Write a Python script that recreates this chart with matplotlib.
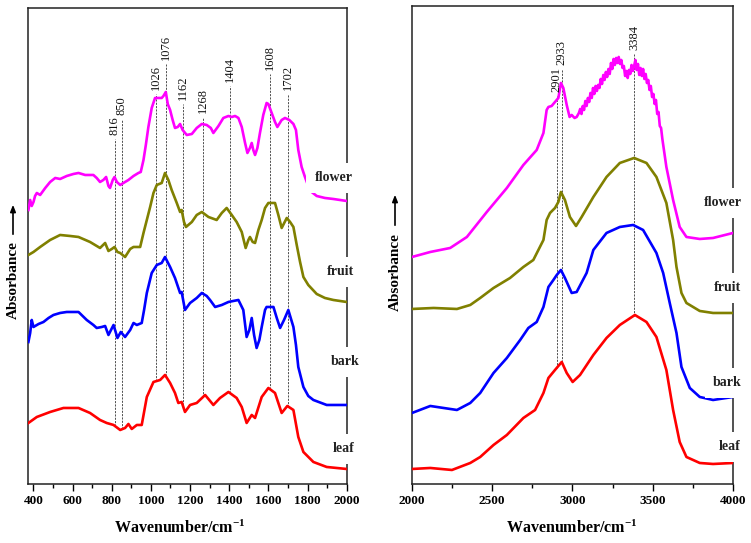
import numpy as np
import matplotlib
matplotlib.use("Agg")
import matplotlib.pyplot as plt
from matplotlib.ticker import MultipleLocator

plt.rcParams['font.family'] = ['Liberation Serif', 'DejaVu Serif']
plt.rcParams['mathtext.fontset'] = 'custom'
plt.rcParams['mathtext.rm'] = 'Liberation Serif:bold'
plt.rcParams['mathtext.default'] = 'rm'

# ---- low wavenumber region (400-2000 cm-1), offset absorbance (a.u.) ----
flower_lo_wn = [374, 383, 391, 400, 408, 417, 434, 460, 485, 511, 536, 570, 604, 630, 664, 706, 723, 740, 757, 771,
                783, 791, 805, 814, 826, 843, 868, 885, 911, 936, 948, 962, 974, 987, 1004, 1021, 1038, 1055, 1064, 1076,
                1086, 1098, 1111, 1123, 1137, 1149, 1162, 1183, 1209, 1234, 1260, 1285, 1306, 1319, 1345, 1370, 1396, 1413, 1430, 1447,
                1464, 1481, 1493, 1506, 1515, 1523, 1532, 1544, 1557, 1574, 1591, 1600, 1617, 1634, 1646, 1668, 1685, 1707, 1728, 1741,
                1753, 1770, 1787, 1804, 1821, 1847, 1889, 1932, 2000]
flower_lo = [274, 284, 278, 282, 288, 291, 289, 296, 302, 306, 305, 308, 310, 311, 309, 309, 306, 302, 304, 307,
             298, 296, 304, 307, 302, 299, 302, 304, 308, 311, 312, 324, 339, 357, 376, 386, 386, 386, 388, 392,
             380, 374, 364, 356, 357, 360, 354, 349, 350, 356, 360, 359, 356, 351, 358, 366, 368, 367, 368, 366,
             357, 341, 331, 336, 341, 334, 329, 336, 351, 369, 381, 380, 371, 362, 357, 364, 366, 364, 360, 354,
             334, 317, 307, 298, 292, 288, 286, 285, 283]

fruit_lo_wn = [374, 400, 434, 485, 536, 587, 630, 689, 740, 766, 783, 800, 814, 829, 843, 868, 894, 911, 945, 962,
               979, 996, 1013, 1030, 1055, 1072, 1089, 1106, 1132, 1149, 1157, 1169, 1179, 1209, 1234, 1260, 1294, 1336, 1362, 1387,
               1413, 1438, 1464, 1484, 1498, 1506, 1520, 1532, 1549, 1566, 1583, 1600, 1634, 1651, 1668, 1694, 1711, 1728, 1745, 1762,
               1779, 1804, 1847, 1889, 1932, 2000]
fruit_lo = [229, 232, 237, 244, 249, 248, 247, 242, 236, 241, 233, 235, 237, 232, 231, 227, 235, 237, 237, 251,
            264, 277, 291, 299, 301, 311, 304, 294, 281, 272, 274, 262, 257, 262, 269, 272, 267, 264, 271, 276,
            269, 262, 252, 236, 244, 247, 242, 241, 254, 264, 276, 281, 281, 269, 256, 266, 262, 257, 239, 222,
            207, 199, 190, 186, 184, 182]

bark_lo_wn = [374, 383, 391, 400, 426, 451, 477, 502, 536, 570, 630, 672, 706, 723, 749, 766, 783, 809, 829, 846,
              868, 894, 911, 928, 953, 965, 979, 1004, 1030, 1055, 1072, 1098, 1123, 1149, 1157, 1174, 1200, 1234, 1260, 1285,
              1302, 1328, 1362, 1396, 1421, 1447, 1472, 1489, 1503, 1515, 1527, 1540, 1554, 1566, 1583, 1591, 1626, 1643, 1660, 1680,
              1702, 1728, 1741, 1753, 1779, 1804, 1830, 1898, 2000]
bark_lo = [142, 151, 164, 157, 160, 162, 166, 169, 171, 172, 172, 164, 159, 156, 157, 158, 149, 159, 146, 152,
           147, 154, 161, 159, 161, 174, 191, 211, 219, 221, 227, 217, 206, 191, 192, 174, 181, 186, 191, 188,
           184, 177, 179, 182, 183, 184, 174, 147, 154, 166, 149, 136, 144, 157, 174, 177, 177, 166, 156, 164,
           174, 157, 139, 117, 97, 88, 84, 79, 79]

leaf_lo_wn = [374, 417, 485, 553, 630, 689, 740, 774, 809, 843, 868, 885, 902, 928, 953, 979, 1013, 1047, 1072, 1098,
              1123, 1140, 1157, 1174, 1200, 1234, 1277, 1319, 1353, 1396, 1438, 1464, 1489, 1515, 1532, 1566, 1600, 1634, 1668, 1697,
              1728, 1753, 1779, 1830, 1898, 2000]
leaf_lo = [61, 67, 72, 76, 76, 71, 64, 61, 59, 54, 56, 60, 55, 59, 59, 87, 102, 104, 109, 101,
           91, 81, 82, 72, 79, 81, 89, 79, 86, 92, 86, 77, 61, 69, 66, 87, 96, 91, 71, 78,
           74, 47, 32, 22, 17, 15]

# ---- high wavenumber region (2000-4000 cm-1) ----
flower_hi_wn = [2000, 2114, 2238, 2342, 2466, 2591, 2694, 2777, 2819, 2839, 2850, 2870, 2891, 2912, 2928, 2943, 2964, 2982, 2995, 3013,
                3026, 3040, 3048, 3056, 3064, 3072, 3080, 3088, 3096, 3104, 3112, 3120, 3128, 3136, 3144, 3152, 3160, 3168, 3176, 3184,
                3192, 3200, 3208, 3216, 3224, 3232, 3240, 3248, 3256, 3264, 3272, 3280, 3288, 3296, 3304, 3312, 3320, 3328, 3336, 3344,
                3352, 3360, 3368, 3376, 3384, 3392, 3400, 3408, 3416, 3424, 3432, 3440, 3448, 3456, 3464, 3472, 3480, 3488, 3496, 3504,
                3512, 3520, 3528, 3536, 3544, 3552, 3560, 3585, 3627, 3668, 3710, 3793, 3876, 4000]
flower_hi = [227, 232, 236, 247, 272, 296, 319, 334, 351, 374, 377, 378, 382, 386, 401, 396, 379, 367, 369, 366,
             367, 371, 375, 370, 378, 374, 383, 378, 386, 382, 391, 386, 396, 390, 398, 393, 399, 396, 405, 400,
             409, 404, 412, 407, 415, 410, 421, 415, 425, 419, 426, 421, 427, 420, 424, 416, 418, 408, 413, 406,
             414, 410, 419, 413, 418, 424, 414, 420, 409, 416, 408, 415, 405, 410, 401, 404, 394, 398, 387, 390,
             380, 384, 370, 372, 358, 356, 345, 317, 284, 257, 247, 245, 246, 251]

fruit_hi_wn = [2000, 2135, 2280, 2363, 2425, 2508, 2611, 2694, 2756, 2819, 2839, 2860, 2891, 2912, 2928, 2953, 2984, 3022, 3057, 3130,
               3212, 3295, 3384, 3461, 3523, 3585, 3627, 3648, 3679, 3710, 3793, 3876, 4000]
fruit_hi = [175, 176, 175, 179, 186, 196, 206, 217, 224, 244, 264, 271, 276, 282, 292, 284, 267, 258, 267, 287,
            307, 321, 326, 321, 307, 281, 244, 217, 191, 181, 173, 171, 171]

bark_hi_wn = [2000, 2114, 2280, 2363, 2425, 2508, 2591, 2674, 2725, 2777, 2819, 2850, 2881, 2902, 2928, 2953, 2995, 3026, 3088, 3130,
              3212, 3295, 3378, 3440, 3523, 3565, 3606, 3648, 3679, 3731, 3793, 3876, 4000]
bark_hi = [71, 78, 74, 81, 91, 111, 126, 144, 156, 162, 177, 197, 204, 209, 214, 206, 191, 192, 211, 234,
           251, 257, 259, 254, 231, 211, 181, 151, 117, 96, 87, 84, 87]

leaf_hi_wn = [2000, 2114, 2249, 2363, 2425, 2508, 2591, 2694, 2767, 2819, 2850, 2891, 2933, 2964, 3001, 3047, 3130, 3212, 3295, 3389,
              3461, 3523, 3585, 3627, 3668, 3710, 3793, 3876, 4000]
leaf_hi = [15, 16, 14, 21, 27, 39, 49, 66, 74, 91, 106, 114, 122, 111, 102, 109, 129, 146, 159, 169,
           162, 147, 114, 74, 42, 27, 21, 20, 21]

# peak markers: wavenumber and height of label bottom
peaks_lo = [816, 850, 1026, 1076, 1162, 1268, 1404, 1608, 1702]
peaks_lo_top = [349, 369, 394, 424, 384, 371, 402, 414, 394]
peaks_hi = [2901, 2933, 3384]
peaks_hi_top = [392, 419, 434]

names = ['flower', 'fruit', 'bark', 'leaf']
colors = ['#ff00ff', '#808000', '#0000ff', '#ff0000']
name_pos_lo = [(1934, 306), (1969, 212), (1990, 122), (1985, 35)]
name_pos_hi = [(3937, 281), (3965, 196), (3965, 101), (3977, 37)]

fig = plt.figure(figsize=(7.51, 5.43), dpi=100)
ax1 = fig.add_axes([0.0373, 0.1087, 0.4248, 0.8766])
ax2 = fig.add_axes([0.5486, 0.1087, 0.4274, 0.8803])

series_lo = [(flower_lo_wn, flower_lo), (fruit_lo_wn, fruit_lo), (bark_lo_wn, bark_lo), (leaf_lo_wn, leaf_lo)]
series_hi = [(flower_hi_wn, flower_hi), (fruit_hi_wn, fruit_hi), (bark_hi_wn, bark_hi), (leaf_hi_wn, leaf_hi)]

for ax, series, peaks, tops, pos in [(ax1, series_lo, peaks_lo, peaks_lo_top, name_pos_lo),
                                     (ax2, series_hi, peaks_hi, peaks_hi_top, name_pos_hi)]:
    for (wn, a), c in zip(series, colors):
        ax.plot(wn, a, color=c, lw=1.9, solid_joinstyle='round', zorder=3)
    leaf_wn, leaf_a = series[-1]
    for p, t in zip(peaks, tops):
        bottom = np.interp(p, leaf_wn, leaf_a)
        ax.plot([p, p], [bottom, t - 4], ls=(0, (2.5, 1.5)), color='#333333', lw=0.6, zorder=2)
        ax.text(p, t, str(p), rotation=90, ha='center', va='bottom', fontsize=9, color='#111111')
    for (x, y), n in zip(pos, names):
        ax.text(x, y, n, ha='center', va='center', fontsize=10, fontweight='bold', color='#222222',
                bbox=dict(boxstyle='square,pad=0.6', fc='white', ec='none'), zorder=5, clip_on=False)
    ax.set_yticks([])
    for s in ax.spines.values():
        s.set_linewidth(1.1)
        s.set_color('#222222')
    ax.tick_params(axis='x', which='major', direction='out', length=5, width=1.0, pad=3, labelsize=9.5)
    ax.tick_params(axis='x', which='minor', direction='out', length=3, width=1.0)

ax1.set_xlim(372, 2002)
ax1.set_ylim(0, 476)
ax1.xaxis.set_major_locator(MultipleLocator(200))
ax1.xaxis.set_minor_locator(MultipleLocator(100))
ax2.set_xlim(2000, 4000)
ax2.set_ylim(0, 478)
ax2.xaxis.set_major_locator(MultipleLocator(500))
ax2.xaxis.set_minor_locator(MultipleLocator(250))
for ax in (ax1, ax2):
    for lab in ax.get_xticklabels():
        lab.set_fontweight('bold')

# x labels
fig.text(180 / 751, 1 - 528 / 543, 'Wavenumber/cm$^{-1}$', ha='center', va='center', fontsize=11.5, fontweight='bold')
fig.text(572 / 751, 1 - 528 / 543, 'Wavenumber/cm$^{-1}$', ha='center', va='center', fontsize=11.5, fontweight='bold')

# y labels with arrow
for xp, yc, ya0, ya1 in [(13, 280, 237, 202), (395, 272, 228, 192)]:
    fig.text(xp / 751, 1 - yc / 543, 'Absorbance', rotation=90, ha='center', va='center', fontsize=11, fontweight='bold')
    fig.add_artist(matplotlib.patches.FancyArrowPatch((xp / 751, 1 - ya0 / 543), (xp / 751, 1 - ya1 / 543),
                                                      transform=fig.transFigure, arrowstyle='-|>,head_length=4,head_width=1.6',
                                                      mutation_scale=1, lw=1.2, color='black'))

fig.savefig('out.png', dpi=100)
